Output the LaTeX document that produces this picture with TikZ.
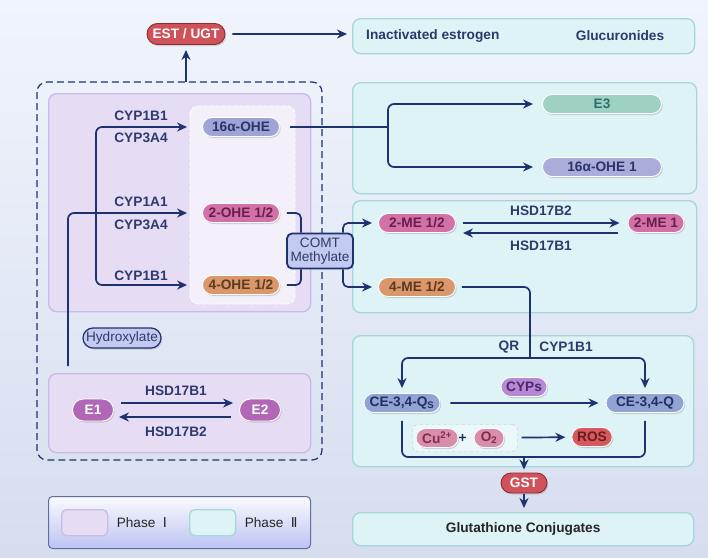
\documentclass[tikz,border=0pt]{standalone}
\usepackage{fontspec}
\setmainfont{Liberation Sans}
\newfontfamily\numfont{DejaVu Sans}
\usepackage{tikz}
\usetikzlibrary{positioning,arrows.meta,shapes.misc,shadows,calc}

\definecolor{navy}{HTML}{1E3270}
\definecolor{lbltxt}{HTML}{2E3A6E}
\definecolor{bgtop}{HTML}{F0F5FC}
\definecolor{bgbot}{HTML}{D6DDEF}
\definecolor{pIfill}{HTML}{E6DDF5}
\definecolor{pIline}{HTML}{CBB9E6}
\definecolor{pIIfill}{HTML}{DDF3F6}
\definecolor{pIIline}{HTML}{A6D6DA}
\definecolor{redfill}{HTML}{CF525A}
\definecolor{redline}{HTML}{8E2C33}
\definecolor{lavfill}{HTML}{A0A3D6}
\definecolor{lavtxt}{HTML}{2B3569}
\definecolor{pinkfill}{HTML}{D271A8}
\definecolor{pinktxt}{HTML}{6A1E4E}
\definecolor{orgfill}{HTML}{DA976B}
\definecolor{orgtxt}{HTML}{5C3A1E}
\definecolor{tealfill}{HTML}{9FD1C2}
\definecolor{tealtxt}{HTML}{2F6F69}
\definecolor{cefill}{HTML}{90A3D4}
\definecolor{cetxt}{HTML}{22305E}
\definecolor{cypfill}{HTML}{B688D5}
\definecolor{cyptxt}{HTML}{4B2A68}
\definecolor{cufill}{HTML}{DA8DAB}
\definecolor{cutxt}{HTML}{7D2C4F}
\definecolor{rosfill}{HTML}{D5595D}
\definecolor{rostxt}{HTML}{6B1C20}
\definecolor{efill}{HTML}{B167B6}
\definecolor{tagfill}{HTML}{C4CAEF}

\newcommand{\bfs}{\bfseries\fontsize{13.7}{14}\selectfont}
\newcommand{\rgs}{\fontsize{13.6}{14.5}\selectfont}

\tikzset{
  pill/.style={rounded rectangle, draw=white, line width=0.9pt, minimum height=19pt,
    inner xsep=4pt, inner ysep=0pt, font=\bfs,
    drop shadow={shadow xshift=1.2pt, shadow yshift=-1.5pt, fill=black!50, opacity=0.3}},
  redpill/.style={pill, fill=redfill, draw=redline, text=white},
  lbl/.style={font=\bfs, text=lbltxt, inner sep=1pt},
  boxtxt/.style={font=\bfs, text=lbltxt, inner sep=1pt},
  link/.style={draw=navy, line width=1.7pt},
  arr/.style={link, -{Stealth[length=10pt,width=9pt]}},
  phaseI/.style={rectangle, fill=pIfill, draw=pIline, line width=1.3pt, rounded corners=8pt},
  phaseII/.style={rectangle, fill=pIIfill, draw=pIIline, line width=1.3pt, rounded corners=8pt},
  tagbox/.style={rounded rectangle, fill=tagfill, draw=navy, line width=1.2pt, font=\rgs,
    text=lbltxt, minimum height=20pt, inner xsep=4pt, inner ysep=0pt,
    drop shadow={shadow xshift=1.2pt, shadow yshift=-1.5pt, fill=black!50, opacity=0.3}},
}

\begin{document}
\begin{tikzpicture}[x=1pt,y=-1pt]
  \shade[top color=bgtop,bottom color=bgbot] (0,0) rectangle (708,557);
  \useasboundingbox (0,0) rectangle (708,557);

  % phase I side
  \draw[navy,line width=1.2pt,dash pattern=on 7pt off 4pt,rounded corners=10pt] (37,82) rectangle (322,460);
  \node[phaseI,anchor=north west,minimum width=262pt,minimum height=218pt] (hydbox) at (48,93) {};
  \node[phaseI,anchor=north west,minimum width=262pt,minimum height=79pt] (redbox) at (48,373) {};
  \draw[fill=white!55!pIfill,draw=white,line width=0.8pt,dash pattern=on 4pt off 2pt,rounded corners=8pt] (190,106) rectangle (295,304);

  % phase II side
  \node[phaseII,anchor=north west,minimum width=342pt,minimum height=35pt] (inact) at (352,18) {};
  \node[phaseII,anchor=north west,minimum width=344pt,minimum height=111pt] (ohebox) at (352,82) {};
  \node[phaseII,anchor=north west,minimum width=344pt,minimum height=112pt] (mebox) at (352,200) {};
  \node[phaseII,anchor=north west,minimum width=341pt,minimum height=131pt] (cebox) at (352,335) {};
  \node[phaseII,anchor=north west,minimum width=341pt,minimum height=33pt] (gsh) at (352,512) {};
  \node[boxtxt,anchor=west] (inacttxt) at (365,35.5) {Inactivated estrogen};
  \node[boxtxt] (gluctxt) at (620,35.5) {Glucuronides};
  \node[boxtxt,text=black!85] (gshtxt) at (gsh) {Glutathione Conjugates};

  % conjugation
  \node[redpill,minimum width=86pt,minimum height=21pt] (estugt) at (186,34) {EST / UGT};
  \coordinate (outtop) at (186,82);
  \draw[arr,shorten >=5pt] (outtop) -- (estugt);
  \draw[arr,shorten <=7pt,shorten >=5pt] (estugt) -- (inact.west |- estugt);

  % hydroxylation
  \node[pill,fill=lavfill,text=lavtxt,minimum width=85pt] (ohe16) at (241,127) {16α-OHE};
  \node[pill,fill=pinkfill,text=pinktxt,minimum width=85pt] (ohe2) at (241,213) {2-OHE 1/2};
  \node[pill,fill=orgfill,text=orgtxt,minimum width=85pt] (ohe4) at (241,285) {4-OHE 1/2};
  \coordinate (cypA) at (96,200);
  \coordinate (e1up) at (68,366);
  \draw[arr,rounded corners=6pt,shorten >=15pt] (cypA) |- (ohe16);
  \draw[arr,rounded corners=6pt,shorten >=15pt] (cypA) |- (ohe4);
  \draw[arr,rounded corners=6pt,shorten >=15pt] (e1up) |- (ohe2);
  \node[lbl] (cyp1b1a) at (141,116) {CYP1B1};
  \node[lbl] (cyp3a4a) at (141,138) {CYP3A4};
  \node[lbl] (cyp1a1) at (141,202) {CYP1A1};
  \node[lbl] (cyp3a4b) at (141,225) {CYP3A4};
  \node[lbl] (cyp1b1b) at (141,276) {CYP1B1};
  \node[tagbox,minimum width=86pt] (hydrox) at (122,338) {Hydroxylate};

  % E1 / E2
  \node[pill,fill=efill,text=white,minimum width=49pt,minimum height=22pt] (e1) at (93,410) {E1};
  \node[pill,fill=efill,text=white,minimum width=49pt,minimum height=22pt] (e2) at (260,410) {E2};
  \draw[arr,shorten <=7pt,shorten >=6pt] ([yshift=7pt]e1.east) -- ([yshift=7pt]e2.west);
  \draw[arr,shorten <=8pt,shorten >=5pt] ([yshift=-7pt]e2.west) -- ([yshift=-7pt]e1.east);
  \node[lbl] (hsdE1) at (176,391) {HSD17B1};
  \node[lbl] (hsdE2) at (176,432) {HSD17B2};

  % methylation
  \node[rectangle,rounded corners=5pt,fill=tagfill,draw=navy,line width=1.8pt,align=center,
    font=\rgs,text=lbltxt,minimum width=66pt,minimum height=35pt,inner sep=1pt] (comt) at (320,251) {COMT\\Methylate};
  \node[pill,fill=pinkfill,text=pinktxt,minimum width=85pt] (me2) at (417,223) {2-ME 1/2};
  \node[pill,fill=pinkfill,text=pinktxt,minimum width=64pt] (me1) at (656,223) {2-ME 1};
  \node[pill,fill=orgfill,text=orgtxt,minimum width=85pt] (me4) at (417,287) {4-ME 1/2};
  \draw[link,rounded corners=5pt,shorten <=7pt] (ohe2.east) -| ([xshift=-19pt]comt.north);
  \draw[link,rounded corners=5pt,shorten <=7pt] (ohe4.east) -| ([xshift=-19pt]comt.south);
  \draw[arr,rounded corners=5pt,shorten >=6pt] ([xshift=23pt]comt.north) |- (me2);
  \draw[arr,rounded corners=5pt,shorten >=6pt] ([xshift=23pt]comt.south) |- (me4);
  \draw[arr,shorten <=7pt,shorten >=8pt] (me2.east) -- (me1.west);
  \draw[arr,shorten <=10pt,shorten >=7pt] ([yshift=-10pt]me1.west) -- ([yshift=-10pt]me2.east);
  \node[lbl] (hsdM2) at (541,211) {HSD17B2};
  \node[lbl] (hsdM1) at (541,246) {HSD17B1};

  % 16alpha branch
  \node[pill,fill=tealfill,text=tealtxt,minimum width=127pt] (e3) at (602,104) {E3};
  \node[pill,fill=lavfill!90!white,text=lavtxt,minimum width=127pt] (ohe16b) at (602,167) {16α-OHE 1};
  \coordinate (osplit) at (388,127);
  \draw[link,shorten <=10pt] (ohe16.east) -- (osplit);
  \draw[arr,rounded corners=6pt,shorten >=9pt] (osplit) |- (e3);
  \draw[arr,rounded corners=6pt,shorten >=9pt] (osplit) |- (ohe16b);

  % quinones
  \node[pill,fill=cefill,text=cetxt,minimum width=84pt] (ceqs) at (402,403) {CE-3,4-Q\textsubscript{S}};
  \node[pill,fill=cefill,text=cetxt,minimum width=86pt] (ceq) at (645,403) {CE-3,4-Q};
  \node[pill,fill=cypfill,text=cyptxt,minimum width=54pt] (cyps) at (524,387) {CYPs};
  \coordinate (qsplit) at (530,358);
  \draw[link,rounded corners=6pt,shorten <=6pt] (me4.east) -| (qsplit);
  \draw[arr,rounded corners=6pt,shorten >=5pt] (qsplit) -| (ceqs);
  \draw[arr,rounded corners=6pt,shorten >=5pt] (qsplit) -| (ceq);
  \node[lbl] (qr) at (509,347) {QR};
  \node[lbl] (cyp1b1c) at (566,347) {CYP1B1};
  \draw[arr,shorten <=10pt,shorten >=7pt] (ceqs) -- (ceq);

  \node[rectangle,draw=black!25,dashed,fill=white!40!pIIfill,rounded corners=5pt,
    minimum width=105pt,minimum height=27pt] (cubox) at (465,438) {};
  \node[pill,fill=cufill,text=cutxt,minimum width=38pt,minimum height=19pt] (cu) at (437,438) {Cu\textsuperscript{2+}};
  \node[font=\bfs,text=cetxt,inner sep=0pt] (plus) at (462.5,438) {+};
  \node[pill,fill=cufill,text=cutxt,minimum width=38pt,minimum height=19pt] (o2) at (489,438) {O\textsubscript{2}};
  \node[pill,fill=rosfill,text=rostxt,minimum width=40pt] (ros) at (592,437) {ROS};
  \draw[arr,shorten <=4pt,shorten >=6pt] (cubox) -- (ros);

  \coordinate (gjoin) at (524,457);
  \node[redpill,minimum width=54pt,minimum height=20pt] (gst) at (524,483) {GST};
  \draw[link,rounded corners=6pt,shorten <=8pt] (ceqs) |- (gjoin);
  \draw[link,rounded corners=6pt,shorten <=8pt] (ceq) |- (gjoin);
  \draw[arr,shorten >=3pt] (gjoin) -- (gst);
  \draw[arr,shorten <=1pt,shorten >=4pt] (gst) -- (gst |- gsh.north);

  % legend
  \node[rectangle,anchor=north west,top color=white!60!bgtop,bottom color=bgbot!85!blue!90!white,
    draw=navy!70!white,line width=1pt,rounded corners=4pt,minimum width=262pt,minimum height=52pt] (legend) at (48,496) {};
  \node[phaseI,rounded corners=5pt,anchor=north west,minimum width=46pt,minimum height=26pt] (swI) at (61,509) {};
  \node[phaseII,rounded corners=5pt,anchor=north west,minimum width=46pt,minimum height=26pt] (swII) at (189,509) {};
  \node[font=\rgs,text=black!85,right=5pt of swI] (legI) {Phase \;{\numfont Ⅰ}};
  \node[font=\rgs,text=black!85,right=5pt of swII] (legII) {Phase \;{\numfont Ⅱ}};
\end{tikzpicture}
\end{document}
